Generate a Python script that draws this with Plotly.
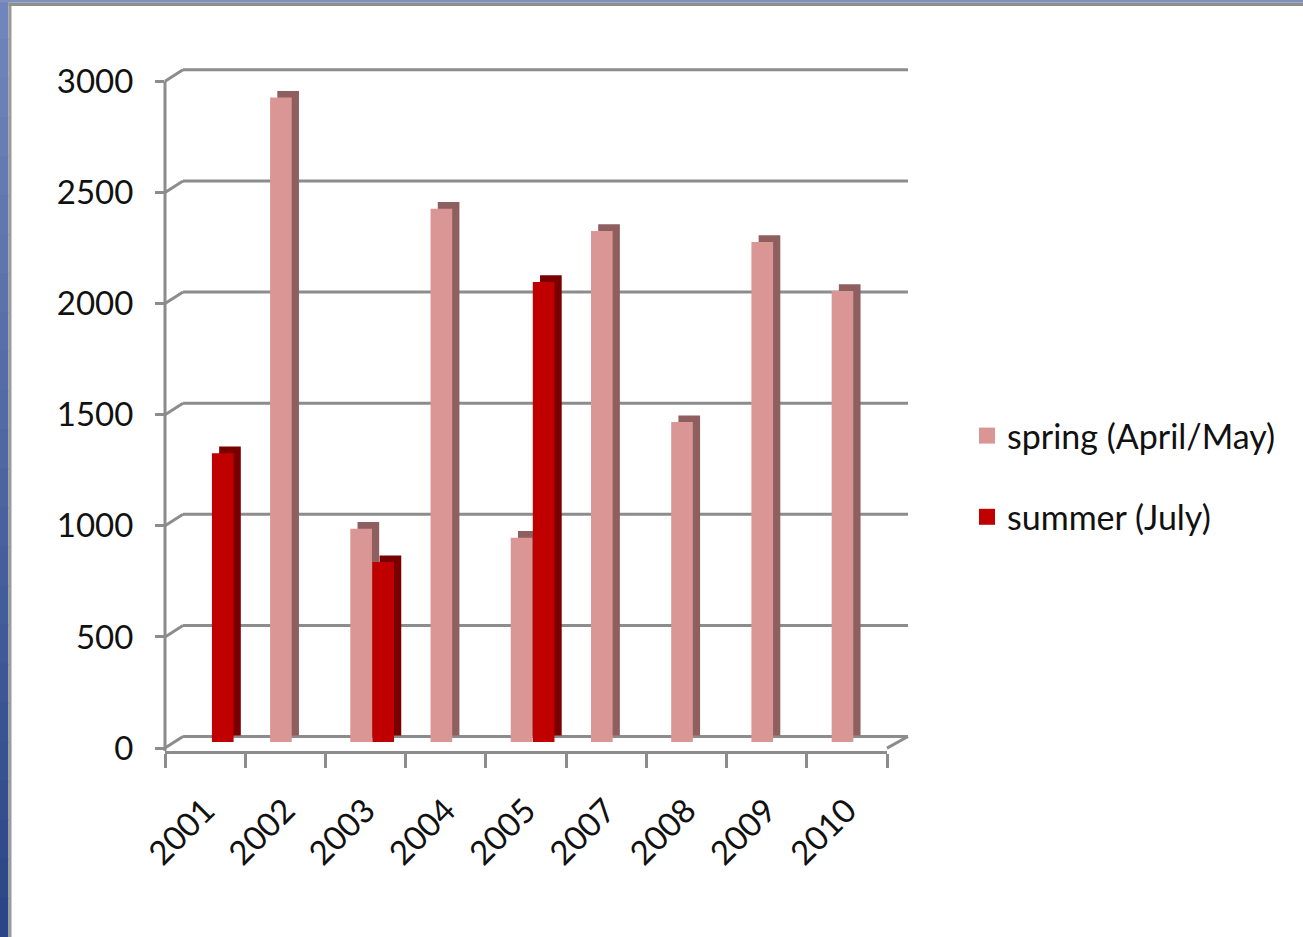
import plotly.graph_objects as go

# ---- data ----
years = ["2001", "2002", "2003", "2004", "2005", "2007", "2008", "2009", "2010"]
spring = [None, 2900, 960, 2400, 920, 2300, 1440, 2250, 2030]
summer = [1300, None, 810, None, 2070, None, None, None, None]
y_ticks = [0, 500, 1000, 1500, 2000, 2500, 3000]

spring_name = "spring (April/May)"
summer_name = "summer (July)"

# ---- styling ----
W, H = 1303, 937
Y_MIN, Y_MAX = -40, 3060
L, R, T, B = 165, 416, 62, 186
PW, PH = W - L - R, H - T - B
FONT = "Lato"
TXT = "#111111"
C_SPRING, C_SPRING_SIDE = "#D99694", "#8F5F5F"
C_SUMMER, C_SUMMER_SIDE = "#C00000", "#780000"
GRID = "#8C8C8C"

BAR_W = 0.27
OFF_SPRING, OFF_SUMMER = -0.19, 0.085
DEPTH_X, DEPTH_Y = 0.09, 30   # pseudo-3D depth (category units / data units)


def px_x(p):
    return (p - L) / PW


def px_y(p):
    return (H - B - p) / PH


fig = go.Figure()

# depth (side/top faces) drawn first, behind the fronts
for vals, off, col in [(spring, OFF_SPRING, C_SPRING_SIDE), (summer, OFF_SUMMER, C_SUMMER_SIDE)]:
    fig.add_trace(go.Bar(
        x=years, y=vals, base=DEPTH_Y, offset=off + DEPTH_X, width=BAR_W,
        marker=dict(color=col, line=dict(width=0)), showlegend=False, hoverinfo="skip",
    ))

fig.add_trace(go.Bar(
    x=years, y=spring, name=spring_name, offset=OFF_SPRING, width=BAR_W,
    marker=dict(color=C_SPRING, line=dict(width=0)), showlegend=False,
))
fig.add_trace(go.Bar(
    x=years, y=summer, name=summer_name, offset=OFF_SUMMER, width=BAR_W,
    marker=dict(color=C_SUMMER, line=dict(width=0)), showlegend=False,
))
# legend entries (square swatches)
for nm, col, grp in [(spring_name, C_SPRING, "a"), (summer_name, C_SUMMER, "b")]:
    fig.add_trace(go.Scatter(x=[None], y=[None], mode="markers", name=nm, legendgroup=grp,
                             marker=dict(symbol="square", size=17, color=col)))

# invisible trace to carry the front value axis
fig.add_trace(go.Scatter(x=[years[0]], y=[0], yaxis="y2", mode="markers",
                         marker=dict(opacity=0), showlegend=False, hoverinfo="skip"))

shapes = []
FRONT_DY = -27
BACK_DY = 25
BACK_X0 = px_x(183)
BACK_X1 = px_x(908)
for v in y_ticks:
    shapes.append(dict(type="line", xref="paper", yref="y", x0=BACK_X0, x1=BACK_X1,
                       y0=v + BACK_DY, y1=v + BACK_DY, line=dict(color=GRID, width=3), layer="below"))
    shapes.append(dict(type="line", xref="paper", yref="y", x0=0, x1=BACK_X0,
                       y0=v + FRONT_DY, y1=v + BACK_DY, line=dict(color=GRID, width=3), layer="below"))
# right floor edge
shapes.append(dict(type="line", xref="paper", yref="y", x0=1, x1=BACK_X1,
                   y0=FRONT_DY, y1=BACK_DY, line=dict(color=GRID, width=3), layer="below"))
# front value axis line
shapes.append(dict(type="line", xref="paper", yref="y", x0=0, x1=0,
                   y0=Y_MIN, y1=y_ticks[-1] + FRONT_DY, line=dict(color=GRID, width=3), layer="below"))

# slide frame (blue gradient strip on the left, thin strip on top)
top_c = (0x70, 0x85, 0xBB)
bot_c = (0x2B, 0x46, 0x88)
n = 24
for i in range(n):
    t = i / (n - 1)
    c = tuple(round(top_c[k] + (bot_c[k] - top_c[k]) * t) for k in range(3))
    shapes.append(dict(type="rect", xref="paper", yref="paper",
                       x0=px_x(0), x1=px_x(8.5),
                       y0=px_y(H * (i + 1) / n + 1), y1=px_y(H * i / n),
                       fillcolor="rgb(%d,%d,%d)" % c, line=dict(width=0), layer="above"))
shapes.append(dict(type="rect", xref="paper", yref="paper", x0=px_x(8.5), x1=px_x(11.5),
                   y0=px_y(H), y1=px_y(3), fillcolor="#9A9A9A", line=dict(width=0), layer="above"))
shapes.append(dict(type="rect", xref="paper", yref="paper", x0=px_x(8.5), x1=px_x(W),
                   y0=px_y(6), y1=px_y(2.5), fillcolor="#8F8F8F", line=dict(width=0), layer="above"))
shapes.append(dict(type="rect", xref="paper", yref="paper", x0=px_x(0), x1=px_x(W),
                   y0=px_y(2.5), y1=px_y(0), fillcolor="#7F90BD", line=dict(width=0), layer="above"))

fig.update_layout(
    width=W, height=H,
    margin=dict(l=L, r=R, t=T, b=B, pad=0),
    paper_bgcolor="white", plot_bgcolor="white",
    barmode="overlay",
    font=dict(family=FONT, size=33, color=TXT),
    shapes=shapes,
    showlegend=True,
    legend=dict(x=px_x(967), y=px_y(407), xanchor="left", yanchor="top",
                font=dict(family=FONT, size=34, color=TXT),
                tracegroupgap=34, bgcolor="rgba(0,0,0,0)", itemsizing="trace",
                itemwidth=30),
    xaxis=dict(type="category", tickson="boundaries", ticks="outside", ticklen=14,
               tickwidth=3, tickcolor=GRID, showline=True, linecolor=GRID, linewidth=3,
               tickangle=-45, showgrid=False, zeroline=False, ticklabelstandoff=24,
               tickfont=dict(family=FONT, size=33, color=TXT)),
    yaxis=dict(range=[Y_MIN, Y_MAX], showgrid=False, zeroline=False, showticklabels=False,
               showline=False, ticks=""),
    yaxis2=dict(overlaying="y", side="left", range=[Y_MIN - FRONT_DY, Y_MAX - FRONT_DY],
                tickvals=y_ticks, ticks="outside", ticklen=9, tickwidth=3, tickcolor=GRID,
                showline=False, showgrid=False, zeroline=False, ticklabelstandoff=15,
                tickfont=dict(family=FONT, size=33, color=TXT)),
)

fig.write_html("out.html", config={"displayModeBar": False},
               post_script="document.body.style.margin='0px';"
                           "document.body.style.overflow='hidden';")
